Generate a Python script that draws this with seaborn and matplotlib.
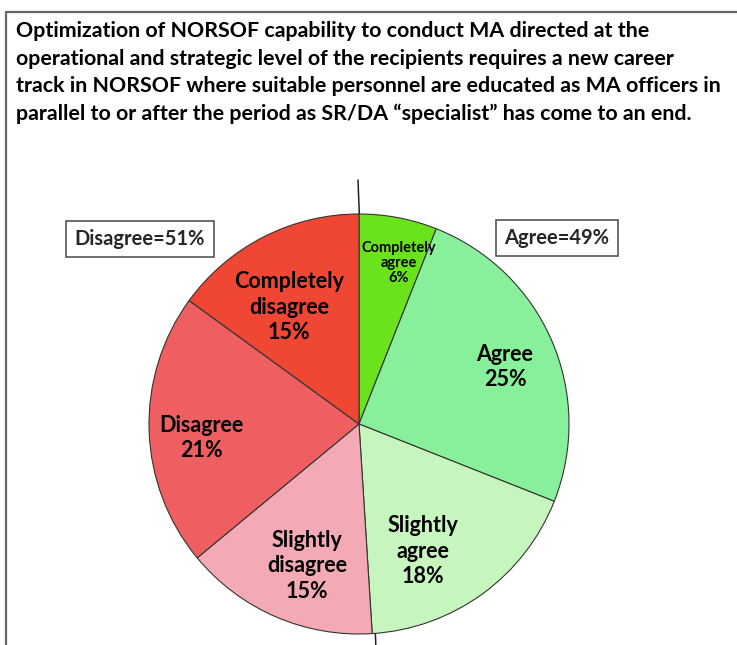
import matplotlib
matplotlib.use("Agg")
import matplotlib.pyplot as plt
import seaborn as sns

# data
categories = ["Completely\nagree", "Agree", "Slightly\nagree",
              "Slightly\ndisagree", "Disagree", "Completely\ndisagree"]
shares = [6, 25, 18, 15, 21, 15]
slice_colors = ["#6be31c", "#88f09a", "#c6f5be", "#f4aab5", "#ef5f61", "#ef4734"]
agree_total = sum(shares[:3])
disagree_total = sum(shares[3:])
title = ("Optimization of NORSOF capability to conduct MA directed at the\n"
         "operational and strategic level of the recipients requires a new career\n"
         "track in NORSOF where suitable personnel are educated as MA officers in\n"
         "parallel to or after the period as SR/DA \u201cspecialist\u201d has come to an end.")

sns.set_theme(style="white")
plt.rcParams["font.family"] = ["Lato", "DejaVu Sans"]
palette = sns.color_palette(slice_colors)

W, H = 737, 645
fig = plt.figure(figsize=(W / 100, H / 100), dpi=100)
fig.patch.set_linewidth(0)
ax = fig.add_axes([0, 0, 1, 1])

cx, cy, r = 359, H - 424, 210
wedges, _ = ax.pie(shares, colors=palette, startangle=90, counterclock=False,
                   center=(cx, cy), radius=r,
                   wedgeprops=dict(edgecolor="#333333", linewidth=0.8, zorder=3))
ax.set_xlim(0, W)
ax.set_ylim(0, H)
ax.set_aspect("equal")
ax.set_axis_off()

# frame (left + top only visible)
ax.plot([6, 6, W + 5], [-5, H - 12, H - 12], color="#666666", lw=1.6,
        solid_capstyle="butt", clip_on=False)

ax.text(16, H - 21, title, ha="left", va="top", fontsize=15.4, fontweight="bold",
        linespacing=1.47, color="black")

# separating line between agree / disagree (hidden behind the pie)
ax.plot([358, 376], [H - 180, H - 650], color="#222222", lw=1.1, zorder=1)

# slice labels
label_pos = [(399, 263), (505, 367), (423, 551), (307, 566), (201, 438), (289, 307)]
for (x, y), cat, v in zip(label_pos, categories, shares):
    small = v < 10
    ax.text(x, H - y, f"{cat}\n{v}%", ha="center", va="center",
            fontsize=10.5 if small else 15.5, fontweight="bold",
            linespacing=1.05 if small else 1.28, color="black", zorder=5)

box = dict(boxstyle="square,pad=0.42", fc="white", ec="#555555", lw=1.2)
ax.text(140, H - 239, f"Disagree={disagree_total}%", ha="center", va="center",
        fontsize=14.5, fontweight="bold", bbox=box)
ax.text(557, H - 238, f"Agree={agree_total}%", ha="center", va="center",
        fontsize=14.5, fontweight="bold", bbox=box)

fig.savefig("out.png", dpi=100, facecolor="white", edgecolor="none")
